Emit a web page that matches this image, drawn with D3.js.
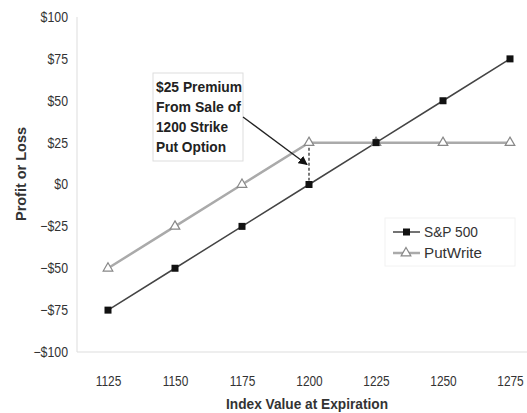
<!DOCTYPE html>
<html><head><meta charset="utf-8">
<script src="https://cdn.jsdelivr.net/npm/d3@7"></script>
<style>body{margin:0;background:#fff;} svg{display:block;font-family:"Liberation Sans",Arial,sans-serif;}</style>
</head><body>
<svg id="c" width="527" height="413"></svg>
<script>
const indexValues = [1125, 1150, 1175, 1200, 1225, 1250, 1275];
const sp500 = [-75, -50, -25, 0, 25, 50, 75];
const putWrite = [-50, -25, 0, 25, 25, 25, 25];
const yTicks = [-100, -75, -50, -25, 0, 25, 50, 75, 100];
const seriesNames = ["S&P 500", "PutWrite"];
const noteLines = ["$25 Premium", "From Sale of", "1200 Strike", "Put Option"];

const svg = d3.select("#c");
const x = d3.scaleLinear().domain([1125, 1275]).range([108, 510]);
const y = d3.scaleLinear().domain([-100, 100]).range([352, 17]);

function condense(sel, k) {
  sel.each(function () {
    const w = this.getComputedTextLength();
    this.setAttribute("textLength", w * k);
    this.setAttribute("lengthAdjust", "spacingAndGlyphs");
  });
}

// axes lines
svg.append("line").attr("x1", 77).attr("x2", 527).attr("y1", y(-100)).attr("y2", y(-100)).attr("stroke", "#ddd");
svg.append("line").attr("x1", 77).attr("x2", 77).attr("y1", y(100)).attr("y2", y(-100)).attr("stroke", "#ddd");

const fmt = v => (v < 0 ? "\u2212$" + Math.abs(v) : "$" + v);
const ya = svg.append("g").attr("transform", "translate(77,0)")
  .call(d3.axisLeft(y).tickValues(yTicks).tickFormat(fmt).tickSize(0).tickPadding(9));
ya.select(".domain").remove();
ya.selectAll("text").attr("font-size", 14).attr("fill", "#333").attr("font-family", "Liberation Sans, Arial, sans-serif").call(condense, 0.88);

const xa = svg.append("g").attr("transform", "translate(0," + (y(-100) + 24) + ")")
  .call(d3.axisBottom(x).tickValues(indexValues).tickFormat(d3.format("d")).tickSize(0).tickPadding(0));
xa.select(".domain").remove();
xa.selectAll("text").attr("font-size", 14).attr("fill", "#333").attr("font-family", "Liberation Sans, Arial, sans-serif").call(condense, 0.85);

svg.append("text").attr("x", 307).attr("y", 409).attr("text-anchor", "middle")
  .attr("font-size", 15).attr("font-weight", "bold").attr("fill", "#333")
  .attr("textLength", 162).attr("lengthAdjust", "spacingAndGlyphs").text("Index Value at Expiration");
svg.append("text").attr("transform", "translate(26,174) rotate(-90)").attr("text-anchor", "middle")
  .attr("font-size", 15).attr("font-weight", "bold").attr("fill", "#333")
  .attr("textLength", 94).attr("lengthAdjust", "spacingAndGlyphs").text("Profit or Loss");

const line = d3.line().x((d, i) => x(indexValues[i])).y(d => y(d));

// PutWrite
svg.append("path").datum(putWrite).attr("d", line).attr("fill", "none").attr("stroke", "#aaa").attr("stroke-width", 2.5);
// S&P
svg.append("path").datum(sp500).attr("d", line).attr("fill", "none").attr("stroke", "#444").attr("stroke-width", 1.5);

const tri = d3.symbol().type(d3.symbolTriangle).size(40);
svg.append("g").selectAll("path").data(putWrite).join("path")
  .attr("d", tri).attr("transform", (d, i) => `translate(${x(indexValues[i])},${y(d)})`)
  .attr("fill", "#fff").attr("stroke", "#888").attr("stroke-width", 1.2);
svg.append("g").selectAll("rect").data(sp500).join("rect")
  .attr("x", (d, i) => x(indexValues[i]) - 3.5).attr("y", d => y(d) - 3.5)
  .attr("width", 7).attr("height", 7).attr("fill", "#111");

// dashed premium line
svg.append("line").attr("x1", x(1200)).attr("x2", x(1200)).attr("y1", y(25) + 5).attr("y2", y(0) - 4)
  .attr("stroke", "#222").attr("stroke-width", 1.2).attr("stroke-dasharray", "3,2");

// annotation box
svg.append("rect").attr("x", 153).attr("y", 73).attr("width", 90).attr("height", 88)
  .attr("fill", "#fff").attr("stroke", "#ddd");
svg.append("g").selectAll("text").data(noteLines).join("text")
  .attr("x", 156).attr("y", (d, i) => 92 + i * 20)
  .attr("font-size", 15).attr("font-weight", "bold").attr("fill", "#222")
  .attr("textLength", (d, i) => [86, 85, 72, 70][i]).attr("lengthAdjust", "spacingAndGlyphs")
  .text(d => d);

// arrow
svg.append("defs").append("marker").attr("id", "ah").attr("viewBox", "0 0 10 10").attr("refX", 9).attr("refY", 5)
  .attr("markerWidth", 7).attr("markerHeight", 7).attr("orient", "auto")
  .append("path").attr("d", "M0,0 L10,5 L0,10 z").attr("fill", "#111");
svg.append("line").attr("x1", 243).attr("y1", 117).attr("x2", x(1200) - 2).attr("y2", y(12))
  .attr("stroke", "#222").attr("stroke-width", 1.3).attr("marker-end", "url(#ah)");

// legend
const lg = svg.append("g");
lg.append("rect").attr("x", 385).attr("y", 218).attr("width", 130).attr("height", 48).attr("fill", "#fff").attr("stroke", "#f2f2f2");
const ly = [232, 253];
lg.append("line").attr("x1", 393).attr("x2", 420).attr("y1", ly[0]).attr("y2", ly[0]).attr("stroke", "#444").attr("stroke-width", 1.5);
lg.append("rect").attr("x", 403).attr("y", ly[0] - 3.5).attr("width", 7).attr("height", 7).attr("fill", "#111");
lg.append("line").attr("x1", 393).attr("x2", 420).attr("y1", ly[1]).attr("y2", ly[1]).attr("stroke", "#aaa").attr("stroke-width", 2.5);
lg.append("path").attr("d", tri).attr("transform", `translate(406,${ly[1]})`).attr("fill", "#fff").attr("stroke", "#888").attr("stroke-width", 1.2);
lg.selectAll("text.l").data(seriesNames).join("text").attr("class", "l")
  .attr("x", 424).attr("y", (d, i) => ly[i] + 5).attr("font-size", 15).attr("fill", "#333")
  .attr("textLength", (d, i) => [54, 58][i]).attr("lengthAdjust", "spacingAndGlyphs").text(d => d);
</script>
</body></html>
